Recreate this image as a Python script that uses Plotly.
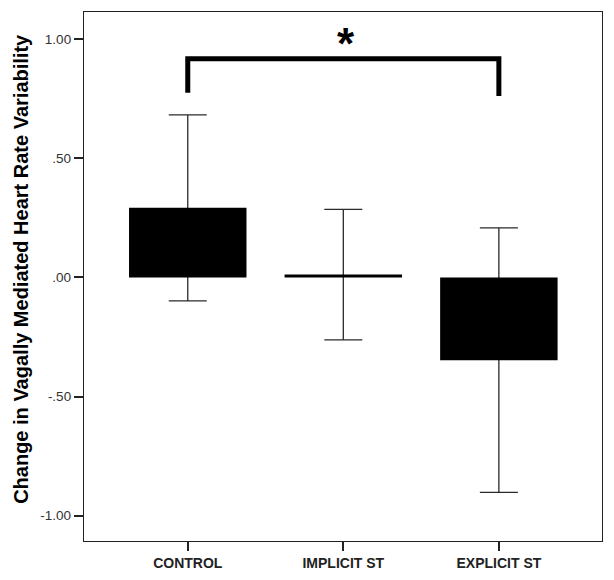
import plotly.graph_objects as go

categories = ["CONTROL", "IMPLICIT ST", "EXPLICIT ST"]
means = [0.292, 0.012, -0.347]
errors = [0.39, 0.274, 0.555]

y_tickvals = [1.0, 0.5, 0.0, -0.5, -1.0]
y_ticktext = ["1.00", ".50", ".00", "-.50", "-1.00"]

# significance bracket between CONTROL and EXPLICIT ST
bracket_x = [categories[0], categories[0], categories[2], categories[2]]
bracket_y = [0.775, 0.918, 0.918, 0.761]
sig_label = "*"

y_title = "Change in Vagally Mediated Heart Rate Variability"

FONT = "Liberation Sans, Arial, sans-serif"

fig = go.Figure()
# error bars first (transparent bars), so the solid bars cover the whisker inside them
fig.add_trace(go.Bar(
    x=categories, y=means, width=0.755,
    marker=dict(color="rgba(0,0,0,0)", line=dict(width=0)),
    error_y=dict(type="data", array=errors, visible=True,
                 color="#2a2a2a", thickness=1.3, width=19),
    showlegend=False, hoverinfo="skip",
))
fig.add_trace(go.Bar(
    x=categories, y=means, width=0.755,
    marker=dict(color="black", line=dict(width=0)),
    showlegend=False, hoverinfo="skip",
))
fig.add_trace(go.Scatter(
    x=bracket_x, y=bracket_y, mode="lines",
    line=dict(color="black", width=5),
    showlegend=False, hoverinfo="skip",
))
fig.add_annotation(
    x=1.02, y=0.918, xref="x", yref="y", text="<b>" + sig_label + "</b>",
    showarrow=False, yanchor="bottom", yshift=-11.5,
    font=dict(family=FONT, size=44, color="black"),
)
fig.add_annotation(
    x=-0.123, y=0.515, xref="paper", yref="paper", text="<b>" + y_title + "</b>",
    textangle=-90, showarrow=False, xanchor="center", yanchor="middle",
    font=dict(family=FONT, size=20, color="black"),
)

# page body has an 8px margin, so the figure is shrunk by 8px and margins shifted
fig.update_layout(
    width=606, height=572,
    margin=dict(l=76, r=12, t=4, b=39, autoexpand=False),
    paper_bgcolor="white", plot_bgcolor="white",
    font=dict(family=FONT, color="#222222"),
    barmode="overlay",
)
fig.update_xaxes(
    type="category", range=[-0.667, 2.663], automargin=False,
    tickvals=categories, ticktext=["<b>" + c + "</b>" for c in categories],
    tickfont=dict(family=FONT, size=14, color="#222222"),
    showline=True, mirror=True, linecolor="#222222", linewidth=1.3,
    ticks="outside", ticklen=9, tickwidth=2, tickcolor="#222222",
    showgrid=False, zeroline=False,
)
fig.update_yaxes(
    range=[-1.106, 1.114], automargin=False,
    tickvals=y_tickvals, ticktext=y_ticktext,
    tickfont=dict(family=FONT, size=13.5, color="#333333"),
    showline=True, mirror=True, linecolor="#222222", linewidth=1.3,
    ticks="outside", ticklen=9, tickwidth=2, tickcolor="#222222",
    showgrid=False, zeroline=False,
)

fig.write_html("out.html")
